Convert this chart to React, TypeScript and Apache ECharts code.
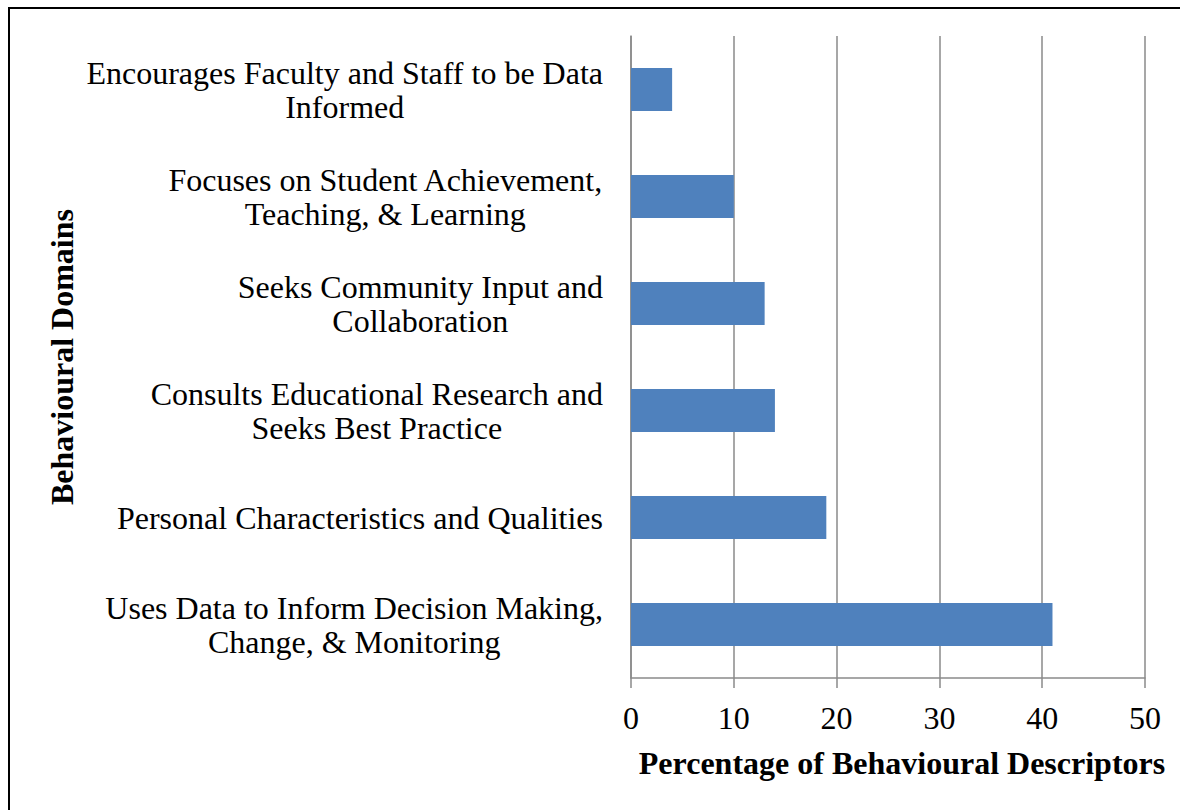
import React, { useEffect, useRef } from "react";
import * as echarts from "echarts";

const categories: string[] = [
  "Encourages Faculty and Staff to be Data\nInformed",
  "Focuses on Student Achievement,\nTeaching, & Learning",
  "Seeks Community Input and\nCollaboration",
  "Consults Educational Research and\nSeeks Best Practice",
  "Personal Characteristics and Qualities",
  "Uses Data to Inform Decision Making,\nChange, & Monitoring",
];
const values: number[] = [4, 10, 13, 14, 19, 41];
const xTicks = { min: 0, max: 50, interval: 10 };
const xTitle = "Percentage of Behavioural Descriptors";
const yTitle = "Behavioural Domains";

const FONT = "'Liberation Serif', 'Times New Roman', serif";
const GRAY = "#8a8a8a";

export default function App() {
  const ref = useRef<HTMLDivElement>(null);
  useEffect(() => {
    if (!ref.current) return;
    const chart = echarts.init(ref.current, undefined, { renderer: "svg" });
    chart.setOption({
      animation: false,
      backgroundColor: "#fff",
      textStyle: { fontFamily: FONT, color: "#000" },
      graphic: [
        {
          type: "rect",
          shape: { x: 9, y: 8, width: 1300, height: 1000 },
          style: { fill: "none", stroke: "#000", lineWidth: 2 },
          silent: true,
        },
      ],
      grid: { left: 631, right: 35, top: 36, bottom: 132, containLabel: false },
      xAxis: {
        type: "value",
        min: xTicks.min,
        max: xTicks.max,
        interval: xTicks.interval,
        name: xTitle,
        nameLocation: "middle",
        nameGap: 69,
        nameTextStyle: {
          fontFamily: FONT,
          fontSize: 32,
          fontWeight: "bold",
          color: "#000",
          padding: [0, 0, 0, 28],
        },
        axisLine: { show: true, lineStyle: { color: GRAY, width: 1.5 } },
        axisTick: { show: true, length: 10, lineStyle: { color: GRAY, width: 1.5 } },
        axisLabel: { fontFamily: FONT, fontSize: 32, color: "#000", margin: 24 },
        splitLine: { show: true, lineStyle: { color: GRAY, width: 1.5 } },
      },
      yAxis: {
        type: "category",
        data: categories,
        inverse: true,
        name: yTitle,
        nameLocation: "middle",
        nameGap: 553,
        nameRotate: 90,
        nameTextStyle: {
          fontFamily: FONT,
          fontSize: 32,
          fontWeight: "bold",
          color: "#000",
        },
        axisLine: { show: true, lineStyle: { color: GRAY, width: 1.5 } },
        axisTick: { show: false },
        splitLine: { show: false },
        axisLabel: {
          margin: 28,
          formatter: (v: string) =>
            v
              .split("\n")
              .map((l) => `{c|${l}}`)
              .join("\n"),
          rich: {
            c: {
              align: "center",
              fontFamily: FONT,
              fontSize: 32,
              lineHeight: 34,
              color: "#000",
            },
          },
        },
      },
      series: [
        {
          type: "bar",
          data: values,
          barCategoryGap: "60%",
          itemStyle: { color: "#4F81BD" },
        },
      ],
    });
    return () => chart.dispose();
  }, []);
  return (
    <div
      ref={ref}
      style={{ position: "fixed", left: 0, top: 0, width: 1180, height: 810 }}
    />
  );
}
